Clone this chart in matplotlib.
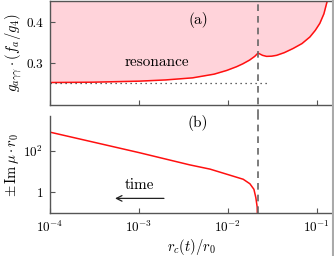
import numpy as np
import matplotlib
matplotlib.use('Agg')
from matplotlib import pyplot as plt
from matplotlib.lines import Line2D

plt.rcParams['font.family'] = 'serif'
plt.rcParams['font.serif'] = ['cmr10', 'DejaVu Serif']
plt.rcParams['mathtext.fontset'] = 'cm'
plt.rcParams['axes.formatter.use_mathtext'] = True

# top panel: coupling curve (resonance boundary)
r_top = [1e-4, 3e-4, 1e-3, 2e-3, 4e-3, 7e-3, 0.0097, 0.0125, 0.0147, 0.0175,
         0.0200, 0.0218, 0.0245, 0.0272, 0.0310, 0.0352, 0.0430, 0.0539,
         0.0680, 0.0835, 0.0960, 0.108, 0.120, 0.129, 0.135]
g_top = [0.2537, 0.2545, 0.2570, 0.2600, 0.2650, 0.2740, 0.2830, 0.2920, 0.2990,
         0.3080, 0.3170, 0.3250, 0.3195, 0.3170, 0.3175, 0.3195, 0.3260, 0.3360,
         0.3480, 0.3640, 0.3800, 0.3970, 0.4200, 0.4460, 0.4600]
g_base = 0.2537
r_base_end = 0.0296
r_crit = 0.0218

# bottom panel: growth rate
r_bot = [1e-4, 1e-3, 3.7e-3, 6.3e-3, 0.0105, 0.01486, 0.01766, 0.0196, 0.0206, 0.0213, 0.02178]
mu_bot = [820, 84, 21.5, 13.3, 6.8, 4.3, 2.6, 1.4, 0.55, 0.2, 0.01]

red = '#ff1010'
spine_c = '#555555'

fig = plt.figure(figsize=(3.34, 2.56), dpi=100)
ax1 = fig.add_axes([0.150, 0.591, 0.844, 0.405])
ax2 = fig.add_axes([0.150, 0.168, 0.844, 0.379], sharex=ax1)

ax1.fill_between(r_top, g_top, 0.5, color='#ffd3da', lw=0)
ax1.plot(r_top, g_top, color=red, lw=1.1)
ax1.plot([1e-4, r_base_end], [g_base, g_base], ls=(0, (1, 3)), color='#333333', lw=0.9)
ax1.axvline(r_crit, ymin=-0.11, ymax=1, color='#666666', ls=(0, (4, 3)), lw=1.2, clip_on=False)
ax1.set_xscale('log')
ax1.set_xlim(1e-4, 0.148)
ax1.set_ylim(0.2, 0.451)
ax1.set_yticks([0.3, 0.4])
ax1.set_yticklabels(['0.3', '0.4'])
ax1.set_ylabel(r'$g_{a\gamma\gamma}\cdot(f_a/g_4)$', fontsize=10.5, labelpad=2)
ax1.text(1.6e-3, 0.302, 'resonance', fontsize=11, ha='center', va='center')
ax1.text(4.6e-3, 0.405, '(a)', fontsize=11, ha='center', va='center')
ax1.spines['right'].set_visible(False)
plt.setp(ax1.get_xticklabels(), visible=False)

ax2.plot(r_bot, mu_bot, color=red, lw=1.1)
ax2.axvline(r_crit, color='#666666', ls=(0, (4, 3)), lw=1.2)
ax2.set_yscale('log')
ax2.set_ylim(0.1, 5000)
ax2.set_yticks([1, 100])
ax2.set_yticklabels([r'$1$', r'$10^2$'])
ax2.yaxis.set_minor_locator(matplotlib.ticker.NullLocator())
ax2.set_xticks([1e-4, 1e-3, 1e-2, 1e-1])
ax2.set_xticklabels([r'$10^{-4}$', r'$10^{-3}$', r'$10^{-2}$', r'$10^{-1}$'])
ax2.xaxis.set_minor_locator(matplotlib.ticker.NullLocator())
ax2.set_ylabel(r'$\pm\,\mathrm{Im}\,\mu\cdot r_0$', fontsize=10.5, labelpad=2)
ax2.set_xlabel(r'$r_c(t)/r_0$', fontsize=10.5, labelpad=1)
ax2.text(4.6e-3, 2300, '(b)', fontsize=11, ha='center', va='center')
ax2.text(1.0e-3, 2.3, 'time', fontsize=11, ha='center', va='center')
ax2.annotate('', xy=(5.0e-4, 0.51), xytext=(2.05e-3, 0.51),
             arrowprops=dict(arrowstyle='->', color='#222222', lw=0.9))
ax2.spines['right'].set_visible(False)
ax2.spines['top'].set_visible(False)

for ax in (ax1, ax2):
    for s in ax.spines.values():
        s.set_color(spine_c)
        s.set_linewidth(1.0)
    ax.tick_params(which='both', direction='in', length=3.5, width=0.8, color=spine_c,
                   labelsize=9.5, pad=5)
    ax.tick_params(which='minor', length=0)

ax1.yaxis.set_minor_locator(matplotlib.ticker.NullLocator())
ax1.xaxis.set_minor_locator(matplotlib.ticker.NullLocator())

fig.add_artist(Line2D([0.997, 0.997], [0, 1], color='#aaaaaa', lw=1.5))

fig.savefig('out.png', dpi=100)
